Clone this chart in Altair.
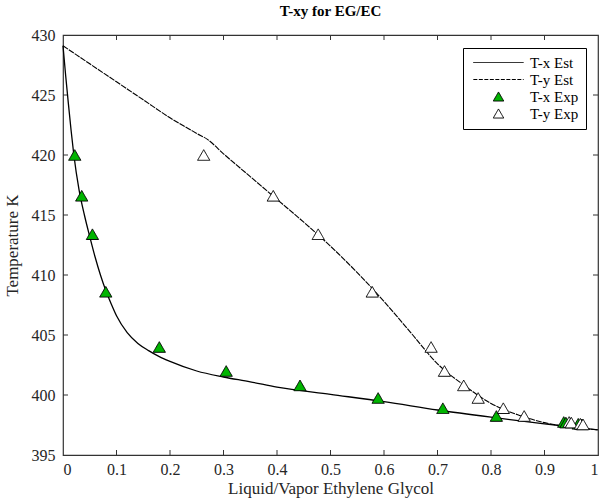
import altair as alt
import pandas as pd

# Estimated bubble-point curve (T-x) for ethylene glycol / ethylene carbonate
tx_est_x = [0, 0.005, 0.01, 0.015, 0.02, 0.03, 0.04, 0.05, 0.06, 0.07, 0.08, 0.09,
            0.10, 0.12, 0.14, 0.16, 0.18, 0.20, 0.25, 0.30, 0.35, 0.40, 0.50, 0.60,
            0.70, 0.80, 0.90, 0.95, 1.0]
tx_est_T = [429.1, 426.6, 424.3, 422.1, 420.1, 417.1, 415.0, 413.2, 411.5, 410.0, 408.7, 407.6,
            406.6, 405.2, 404.3, 403.7, 403.2, 402.8, 402.0, 401.5, 401.1, 400.65, 400.05, 399.45,
            398.75, 398.15, 397.6, 397.35, 397.1]

# Estimated dew-point curve (T-y)
ty_est_x = [0, 0.05, 0.10, 0.15, 0.20, 0.25, 0.27, 0.30, 0.35, 0.40, 0.45, 0.50, 0.55,
            0.60, 0.65, 0.70, 0.75, 0.80, 0.85, 0.90, 0.95, 1.0]
ty_est_T = [429.1, 427.6, 426.1, 424.6, 423.1, 421.8, 421.3, 420.1, 418.2, 416.3, 414.4, 412.4, 410.2,
            407.8, 405.2, 402.6, 400.8, 399.3, 398.35, 397.7, 397.3, 397.1]

# Experimental equilibrium data
exp_T = [420.0, 416.6, 413.4, 408.6, 404.0, 402.0, 400.8, 399.75, 398.9, 398.25,
         397.75, 397.7, 397.6, 397.55]
exp_x = [0.022, 0.035, 0.055, 0.08, 0.18, 0.305, 0.443, 0.589, 0.71, 0.81,
         0.936, 0.94, 0.963, 0.97]
exp_y = [0.263, 0.393, 0.477, 0.578, 0.688, 0.713, 0.749, 0.776, 0.823, 0.862,
         0.946, 0.95, 0.967, 0.972]

series_names = ["T-x Est", "T-y Est", "T-x Exp", "T-y Exp"]
x_ticks = [0, 0.1, 0.2, 0.3, 0.4, 0.5, 0.6, 0.7, 0.8, 0.9, 1.0]
y_ticks = [395, 400, 405, 410, 415, 420, 425, 430]

W, H = 535, 420
FONT = "Liberation Serif"
GREEN = "#00b400"
# long horizontal stroke used as the legend symbol of the curves
LINE_SYMBOL = "M-4.8,0H4.8"

tx_df = pd.DataFrame({"v": tx_est_x, "T": tx_est_T})
ty_df = pd.DataFrame({"v": ty_est_x, "T": ty_est_T})
exp_df = pd.concat([
    pd.DataFrame({"v": exp_x, "T": exp_T, "series": "T-x Exp"}),
    pd.DataFrame({"v": exp_y, "T": exp_T, "series": "T-y Exp"}),
], ignore_index=True)

x_scale = alt.Scale(domain=[0, 1], nice=False)
y_scale = alt.Scale(domain=[395, 430], nice=False)

x_axis = alt.Axis(values=x_ticks, format="~g", ticks=False, domain=False, grid=False,
                  labelPadding=6, title="Liquid/Vapor Ethylene Glycol", titlePadding=3)
y_axis = alt.Axis(values=y_ticks, ticks=False, domain=False, grid=False,
                  labelPadding=8, title="Temperature K", titlePadding=10)

X = alt.X("v:Q", scale=x_scale, axis=x_axis)
Y = alt.Y("T:Q", scale=y_scale, axis=y_axis)

line_tx = alt.Chart(tx_df).mark_line(color="black", strokeWidth=1.3, interpolate="monotone").encode(x=X, y=Y)
line_ty = alt.Chart(ty_df).mark_line(color="black", strokeWidth=1.1, strokeDash=[6, 1],
                                     interpolate="monotone").encode(x=X, y=Y)

legend = alt.Legend(
    title=None, orient="none", legendX=400, legendY=13,
    strokeColor="black", fillColor="white", padding=7,
    labelFont=FONT, labelFontSize=15, labelColor="black",
    symbolOffset=21, labelOffset=24, symbolSize=110, rowPadding=1, symbolStrokeWidth=1,
)

dom = series_names
points = alt.Chart(exp_df).mark_point(filled=True, strokeWidth=1, opacity=1, size=150).encode(
    x=X, y=Y,
    shape=alt.Shape("series:N", scale=alt.Scale(domain=dom, range=[LINE_SYMBOL, LINE_SYMBOL, "triangle-up", "triangle-up"]), legend=legend),
    fill=alt.Fill("series:N", scale=alt.Scale(domain=dom, range=["black", "black", GREEN, "white"]), legend=legend),
    stroke=alt.Stroke("series:N", scale=alt.Scale(domain=dom, range=["black", "black", "black", "black"]), legend=legend),
    strokeDash=alt.StrokeDash("series:N", scale=alt.Scale(domain=dom, range=[[1, 0], [4, 1.5], [1, 0], [1, 0]]), legend=legend),
)

# Inward tick marks on all four sides of the box
xt = pd.DataFrame({"v": x_ticks[1:-1]})
yt = pd.DataFrame({"T": y_ticks[1:-1]})
tick_style = dict(color="#333333", strokeWidth=1)
ticks_bottom = alt.Chart(xt).mark_rule(**tick_style).encode(x=X, y=alt.value(H), y2=alt.value(H - 5))
ticks_top = alt.Chart(xt).mark_rule(**tick_style).encode(x=X, y=alt.value(0), y2=alt.value(5))
ticks_left = alt.Chart(yt).mark_rule(**tick_style).encode(y=Y, x=alt.value(0), x2=alt.value(5))
ticks_right = alt.Chart(yt).mark_rule(**tick_style).encode(y=Y, x=alt.value(W), x2=alt.value(W - 5))

chart = alt.layer(
    ticks_bottom, ticks_top, ticks_left, ticks_right, line_tx, line_ty, points
).properties(
    width=W, height=H,
    background="white",
    title=alt.TitleParams("T-xy for EG/EC", font=FONT, fontSize=15, fontWeight="bold",
                          color="black", anchor="middle", offset=8),
    autosize=alt.AutoSizeParams(type="none"),
    padding={"left": 63, "top": 35, "right": 3, "bottom": 47},
).configure_view(
    stroke="#333333", strokeWidth=1.2
).configure_axis(
    labelFont=FONT, labelFontSize=16, labelColor="#262626",
    titleFont=FONT, titleFontSize=17, titleFontWeight="normal", titleColor="#262626",
)

chart.save("out.html", embed_options={"renderer": "svg", "actions": False})
